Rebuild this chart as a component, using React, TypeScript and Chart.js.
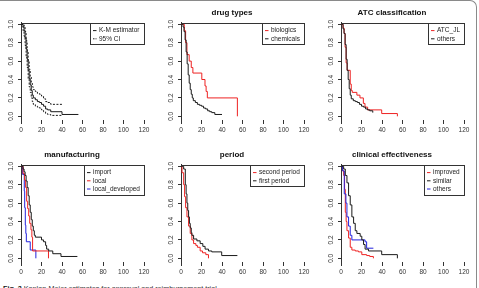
import React, { useEffect, useRef } from "react";
import { Chart, registerables } from "chart.js";

Chart.register(...registerables);

const FONT = '"Liberation Sans", Arial, sans-serif';

// ---- tick labels ----
const xTickValues = [0, 20, 40, 60, 80, 100, 120];
const yTickValues = [0, 0.2, 0.4, 0.6, 0.8, 1.0];

// ---- panel 1 : overall K-M estimate with 95% CI ----
const kmT = [0, 2, 3, 4, 5, 6, 7, 8, 9, 10, 11, 12, 14, 16, 18, 20, 22, 24, 26, 29, 40, 56];
const kmS = [1, 0.97, 0.93, 0.85, 0.73, 0.62, 0.5, 0.41, 0.34, 0.28, 0.23, 0.2, 0.18, 0.16, 0.15, 0.13, 0.11, 0.08, 0.07, 0.05, 0.02, 0.02];
const ciT = [0, 2, 3, 4, 5, 6, 7, 8, 9, 10, 11, 12, 14, 16, 18, 20, 22, 24, 26, 29, 40];
const ciUpS = [1, 1, 0.98, 0.92, 0.82, 0.71, 0.6, 0.51, 0.43, 0.37, 0.32, 0.29, 0.27, 0.25, 0.24, 0.22, 0.19, 0.16, 0.15, 0.13, 0.12];
const ciLoS = [1, 0.93, 0.87, 0.77, 0.64, 0.53, 0.41, 0.32, 0.26, 0.2, 0.16, 0.13, 0.11, 0.1, 0.09, 0.07, 0.05, 0.03, 0.02, 0.01, 0.003];

// ---- panel 2 : drug types ----
const bioT = [0, 3.2, 4.5, 5.8, 8, 10, 11.6, 20.3, 23.4, 24.5, 25.7, 55];
const bioS = [1, 0.93, 0.8, 0.67, 0.6, 0.53, 0.47, 0.4, 0.33, 0.27, 0.2, 0];
const chemT = [0, 2, 3, 4, 5, 6, 7, 8, 9, 10, 11, 12, 14, 16, 18, 20, 22, 24, 26, 28, 30, 33, 40];
const chemS = [1, 0.97, 0.92, 0.83, 0.7, 0.57, 0.45, 0.36, 0.29, 0.24, 0.2, 0.17, 0.15, 0.13, 0.12, 0.11, 0.09, 0.08, 0.06, 0.05, 0.04, 0.02, 0.02];

// ---- panel 3 : ATC classification ----
const atcT = [0, 2, 3, 4, 5, 6, 9, 10, 11, 15.5, 18.5, 21.8, 23.4, 26, 39.7, 55];
const atcS = [1, 0.96, 0.9, 0.75, 0.58, 0.5, 0.35, 0.28, 0.26, 0.23, 0.2, 0.14, 0.1, 0.07, 0.03, 0];
const atcOthT = [0, 2, 3, 4, 5, 6, 7, 8, 9, 10, 12, 14, 16, 18, 20, 22, 24, 26, 28, 31];
const atcOthS = [1, 0.95, 0.9, 0.78, 0.62, 0.5, 0.4, 0.3, 0.23, 0.19, 0.17, 0.16, 0.15, 0.13, 0.11, 0.1, 0.08, 0.07, 0.06, 0.04];

// ---- panel 4 : manufacturing ----
const impT = [0, 2, 3, 4, 5, 6, 7, 8, 9, 10, 11, 12, 13, 14, 20, 22, 24, 25, 27, 31, 39, 55];
const impS = [1, 0.97, 0.94, 0.9, 0.84, 0.77, 0.68, 0.58, 0.5, 0.42, 0.35, 0.3, 0.25, 0.23, 0.2, 0.18, 0.14, 0.1, 0.08, 0.05, 0.02, 0.02];
const locT = [0, 2, 3.5, 4.5, 5.5, 6.5, 7.5, 8.5, 9.7, 10.6, 11.3, 26.8];
const locS = [1, 0.92, 0.85, 0.77, 0.62, 0.54, 0.46, 0.38, 0.31, 0.23, 0.08, 0];
const devT = [0, 1.6, 3.2, 3.6, 4.2, 4.7, 5.2, 9, 14.5];
const devS = [1, 0.91, 0.73, 0.55, 0.36, 0.27, 0.18, 0.09, 0];

// ---- panel 5 : period ----
const secondT = [0, 1, 2.6, 3.5, 4.5, 5.8, 7.4, 9, 10.6, 12.3, 14.5, 16, 18.7, 21, 24.2, 26.8];
const secondS = [1, 0.93, 0.8, 0.67, 0.55, 0.45, 0.35, 0.27, 0.2, 0.16, 0.14, 0.12, 0.08, 0.06, 0.04, 0];
const firstT = [0, 2.6, 4.2, 5, 5.8, 6.6, 7.4, 8.2, 9, 10, 10.6, 12.3, 15.5, 18.7, 21.3, 23.5, 26.8, 30, 39.7, 55];
const firstS = [1, 0.97, 0.8, 0.7, 0.6, 0.52, 0.45, 0.38, 0.33, 0.28, 0.25, 0.21, 0.19, 0.16, 0.13, 0.1, 0.08, 0.07, 0.03, 0.03];

// ---- panel 6 : clinical effectiveness ----
const improvedT = [0, 1.6, 2.6, 3.5, 4.2, 5, 5.8, 7.4, 9, 10.6, 13.9, 17, 20.3, 25, 28, 31.6];
const improvedS = [1, 0.95, 0.9, 0.75, 0.5, 0.4, 0.3, 0.22, 0.12, 0.09, 0.08, 0.07, 0.04, 0.03, 0.02, 0];
const similarT = [0, 2.6, 4.2, 5.8, 7.4, 9, 10.6, 12.3, 13.9, 15.5, 18.7, 20.3, 22, 23.5, 26.8, 39.7, 55];
const similarS = [1, 0.97, 0.9, 0.82, 0.68, 0.58, 0.45, 0.38, 0.3, 0.27, 0.24, 0.2, 0.15, 0.1, 0.08, 0.04, 0];
const clinOthT = [0, 1.6, 3.2, 4.8, 5.8, 7.4, 9, 10.6, 23.5, 25, 31.6];
const clinOthS = [1, 0.95, 0.7, 0.6, 0.45, 0.35, 0.25, 0.2, 0.18, 0.11, 0.11];

const BLACK = "#1a1a1a";
const RED = "#ee2222";
const BLUE = "#2222dd";

type Curve = { t: number[]; s: number[]; color: string; dash?: number[] };
type LegendItem = { label: string; color: string; dash?: number[] };
type Panel = { title: string; curves: Curve[]; legend: LegendItem[] };

const panels: Panel[] = [
  {
    title: "",
    curves: [
      { t: kmT, s: kmS, color: BLACK },
      { t: ciT, s: ciUpS, color: BLACK, dash: [2, 1.5] },
      { t: ciT, s: ciLoS, color: BLACK, dash: [2, 1.5] },
    ],
    legend: [
      { label: "K-M estimator", color: BLACK },
      { label: "95% CI", color: BLACK, dash: [1.5, 1] },
    ],
  },
  {
    title: "drug types",
    curves: [
      { t: chemT, s: chemS, color: BLACK },
      { t: bioT, s: bioS, color: RED },
    ],
    legend: [
      { label: "biologics", color: RED },
      { label: "chemicals", color: BLACK },
    ],
  },
  {
    title: "ATC classification",
    curves: [
      { t: atcOthT, s: atcOthS, color: BLACK },
      { t: atcT, s: atcS, color: RED },
    ],
    legend: [
      { label: "ATC_JL", color: RED },
      { label: "others", color: BLACK },
    ],
  },
  {
    title: "manufacturing",
    curves: [
      { t: impT, s: impS, color: BLACK },
      { t: locT, s: locS, color: RED },
      { t: devT, s: devS, color: BLUE },
    ],
    legend: [
      { label: "import", color: BLACK },
      { label: "local", color: RED },
      { label: "local_developed", color: BLUE },
    ],
  },
  {
    title: "period",
    curves: [
      { t: firstT, s: firstS, color: BLACK },
      { t: secondT, s: secondS, color: RED },
    ],
    legend: [
      { label: "second period", color: RED },
      { label: "first period", color: BLACK },
    ],
  },
  {
    title: "clinical effectiveness",
    curves: [
      { t: similarT, s: similarS, color: BLACK },
      { t: clinOthT, s: clinOthS, color: BLUE },
      { t: improvedT, s: improvedS, color: RED },
    ],
    legend: [
      { label: "improved", color: RED },
      { label: "similar", color: BLACK },
      { label: "others", color: BLUE },
    ],
  },
];

const boxLegendPlugin = {
  id: "boxLegend",
  afterDatasetsDraw(chart: any, _args: any, opts: any) {
    const { ctx, chartArea } = chart;
    const { left, right, top } = chartArea;
    ctx.save();
    ctx.strokeStyle = "#333";
    ctx.lineWidth = 1;
    ctx.beginPath();
    ctx.moveTo(left, Math.round(top) + 0.5);
    ctx.lineTo(right, Math.round(top) + 0.5);
    ctx.stroke();

    const items: LegendItem[] = opts.items || [];
    ctx.font = `6.5px ${FONT}`;
    const tw = Math.max(...items.map((i) => ctx.measureText(i.label).width));
    const w = Math.round(3 + 3 + 2.5 + tw + 5);
    const itemH = 8.2;
    const h = Math.round(5 + items.length * itemH);
    const x0 = Math.round(right) - w;
    const y0 = Math.round(top);
    ctx.fillStyle = "#fff";
    ctx.fillRect(x0, y0, w, h);
    ctx.strokeStyle = "#333";
    ctx.strokeRect(x0 + 0.5, y0 + 0.5, w, h);
    ctx.textBaseline = "middle";
    ctx.textAlign = "left";
    items.forEach((it, i) => {
      const cy = y0 + 3.5 + itemH * (i + 0.5);
      ctx.strokeStyle = it.color;
      ctx.setLineDash(it.dash || []);
      ctx.beginPath();
      ctx.moveTo(x0 + 3, cy);
      ctx.lineTo(x0 + 6.5, cy);
      ctx.stroke();
      ctx.setLineDash([]);
      ctx.fillStyle = "#222";
      ctx.fillText(it.label, x0 + 9, cy);
    });
    ctx.restore();
  },
};

function KMPanel({ panel }: { panel: Panel }) {
  const ref = useRef<HTMLCanvasElement | null>(null);
  useEffect(() => {
    if (!ref.current) return;
    const chart = new Chart(ref.current, {
      type: "line",
      data: {
        datasets: panel.curves.map((c) => ({
          data: c.t.map((x, i) => ({ x, y: c.s[i] })),
          borderColor: c.color,
          borderWidth: 1,
          borderDash: c.dash || [],
          pointRadius: 0,
          stepped: "before" as const,
          fill: false,
        })),
      },
      options: {
        animation: false,
        responsive: false,
        devicePixelRatio: 1,
        layout: { padding: { top: 2, right: 16, bottom: 0, left: 0 } },
        plugins: {
          legend: { display: false },
          tooltip: { enabled: false },
          title: {
            display: true,
            text: panel.title,
            color: "#111",
            font: { family: FONT, size: 8, weight: "bold" },
            padding: { top: 6.3, bottom: 5 },
          },
          boxLegend: { items: panel.legend },
        } as any,
        scales: {
          x: {
            type: "linear",
            min: 0,
            max: 120,
            afterBuildTicks: (s: any) => {
              s.ticks = xTickValues.map((v) => ({ value: v }));
            },
            afterFit: (s: any) => {
              s.height = 20;
            },
            ticks: {
              minRotation: 0,
              maxRotation: 0,
              autoSkip: false,
              padding: 2,
              color: "#333",
              font: { family: FONT, size: 6.5 },
            },
            grid: { drawOnChartArea: false, tickLength: 4, color: "#333" },
            border: { display: false },
          },
          y: {
            type: "linear",
            min: -0.04,
            max: 1.015,
            afterBuildTicks: (s: any) => {
              s.ticks = yTickValues.map((v) => ({ value: v }));
            },
            afterFit: (s: any) => {
              s.width = 21;
            },
            ticks: {
              minRotation: 90,
              maxRotation: 90,
              crossAlign: "center",
              autoSkip: false,
              padding: 2,
              color: "#333",
              font: { family: FONT, size: 6.5 },
              callback: (v: any) => Number(v).toFixed(1),
            },
            grid: { drawOnChartArea: false, tickLength: 3, color: "#333" },
            border: { display: true, color: "#333", width: 1 },
          },
        },
      },
      plugins: [boxLegendPlugin],
    } as any);
    return () => chart.destroy();
  }, [panel]);
  return <canvas ref={ref} width={160} height={140} style={{ display: "block" }} />;
}

export default function App() {
  return (
    <div
      style={{
        position: "fixed",
        left: 0,
        top: 0,
        width: 479,
        height: 288,
        overflow: "hidden",
        background: "#fff",
        fontFamily: FONT,
      }}
    >
      <div
        style={{
          position: "absolute",
          left: -20,
          top: 0,
          width: 497,
          height: 320,
          boxSizing: "border-box",
          borderTop: "1.5px solid #8a8a8a",
          borderRight: "1.5px solid #8a8a8a",
          borderTopRightRadius: 7,
        }}
      />
      {panels.map((p, i) => {
        const col = i % 3;
        const row = Math.floor(i / 3);
        return (
          <div
            key={i}
            style={{ position: "absolute", left: col * 160, top: row === 0 ? 0 : 142, width: 160, height: 140 }}
          >
            <KMPanel panel={p} />
          </div>
        );
      })}
      <div
        style={{
          position: "absolute",
          left: 3,
          top: 284.5,
          fontSize: 7.2,
          lineHeight: "8px",
          color: "#333",
          whiteSpace: "nowrap",
        }}
      >
        <b style={{ color: "#111" }}>Fig. 3</b> Kaplan-Meier estimates for approval and reimbursement trial
      </div>
    </div>
  );
}
